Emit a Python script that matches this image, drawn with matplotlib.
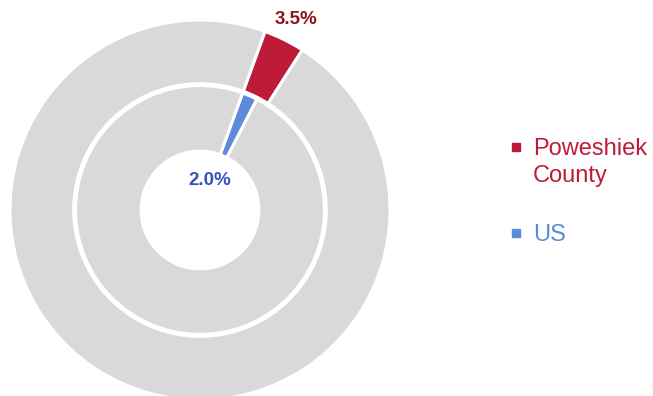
import numpy as np
import matplotlib as mpl
mpl.use("Agg")
import matplotlib.pyplot as plt
from matplotlib.lines import Line2D

plt.rcParams['font.family'] = ['Liberation Sans', 'DejaVu Sans']

# share of population, county vs nation
names = ["Poweshiek\nCounty", "US"]
shares = [3.5, 2.0]
colors = ["#BE1B38", "#5B8BDA"]
label_colors = ["#8B1616", "#3354BE"]
rest_color = "#D9D9D9"

start = 70  # first slice begins ~20 degrees right of 12 o'clock

fig = plt.figure(figsize=(6.53, 3.96), dpi=100)
# pie axes placed in pixels: centre (200, 210), radius 190
ax = fig.add_axes([10 / 653, (396 - 400) / 396, 380 / 653, 380 / 396])

wedge_kw = dict(edgecolor="white", linewidth=2.2)
outer, _ = ax.pie([shares[0], 100 - shares[0]], radius=1.0,
                  colors=[colors[0], rest_color], startangle=start,
                  counterclock=False,
                  wedgeprops=dict(width=0.335, **wedge_kw))
inner, _ = ax.pie([shares[1], 100 - shares[1]], radius=0.655,
                  colors=[colors[1], rest_color], startangle=start,
                  counterclock=False,
                  wedgeprops=dict(width=0.345, **wedge_kw))
ax.set_xlim(-1, 1)
ax.set_ylim(-1, 1)
ax.set_aspect("equal")
ax.axis("off")

for share, r, dx, col in [(shares[0], 1.12, 0.01, label_colors[0]),
                          (shares[1], 0.17, -0.015, label_colors[1])]:
    mid = np.deg2rad(start - share * 3.6 / 2)
    ax.text(r * np.cos(mid) + dx, r * np.sin(mid), f"{share:.1f}%",
            ha="center", va="center", fontsize=13.5, fontweight="bold",
            color=col, clip_on=False)

# legend drawn by hand so the marker sits on the first line of each label
legend_x, text_x = 516 / 653, 533 / 653
legend_y = [1 - 147 / 396, 1 - 233 / 396]
for name, c, y in zip(names, colors, legend_y):
    fig.add_artist(Line2D([legend_x], [y], marker="s", linestyle="",
                          color=c, markersize=5.5,
                          transform=fig.transFigure))
    fig.text(text_x, y + 9 / 396, name, ha="left", va="top",
             fontsize=17, color=c, linespacing=1.3)

fig.savefig("out.png", dpi=100)
